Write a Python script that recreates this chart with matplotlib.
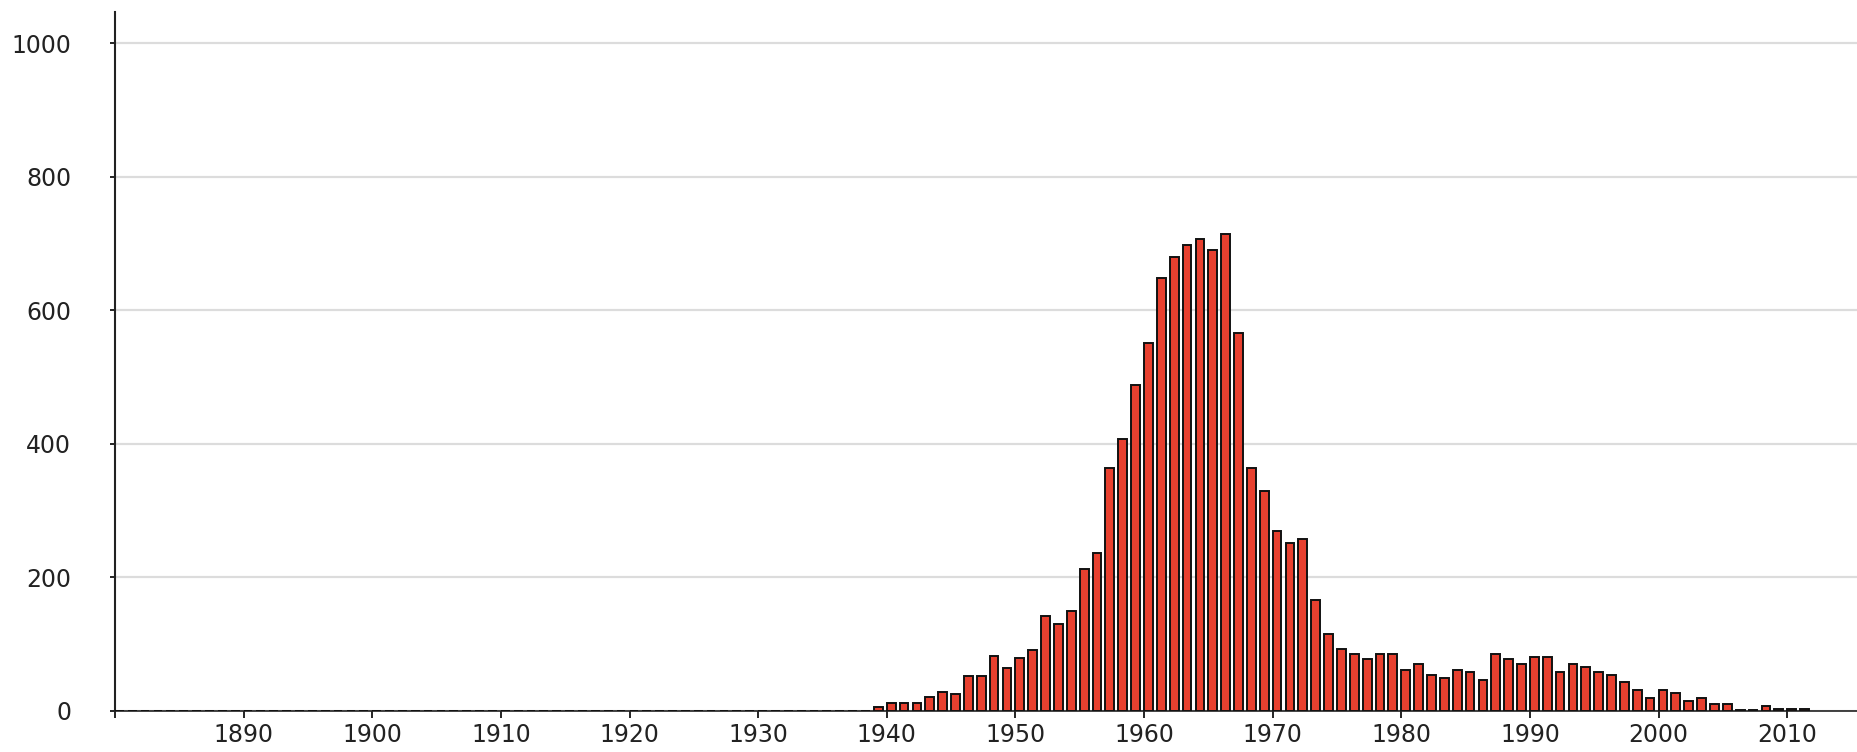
import numpy as np
import matplotlib
matplotlib.use("Agg")
import matplotlib.pyplot as plt

# yearly counts, 1880..2011 (zero until 1938)
first_year = 1880
zero_years = list(range(1880, 1939))
nonzero_counts = [
    6,                                   # 1939
    12, 12, 12, 21, 29, 25, 53, 53, 83, 64,   # 1940-1949
    80, 91, 142, 130, 150, 212, 236, 364, 407, 488,  # 1950-1959
    551, 648, 679, 698, 706, 690, 714, 566, 364, 329,  # 1960-1969
    270, 251, 258, 166, 115, 93, 85, 78, 85, 85,  # 1970-1979
    62, 70, 54, 50, 62, 58, 47, 85, 78, 70,  # 1980-1989
    81, 81, 58, 70, 66, 58, 54, 43, 31, 19,  # 1990-1999
    31, 27, 15, 19, 11, 11, 1, 1, 8, 3,  # 2000-2009
    3, 3,                                # 2010-2011
]
counts = [0] * len(zero_years) + nonzero_counts
years = list(range(first_year, first_year + len(counts)))

x_ticks = list(range(1880, 2011, 10))
x_tick_labels = [''] + [str(y) for y in x_ticks[1:]]
y_ticks = [0, 200, 400, 600, 800, 1000]

plt.rcParams['font.family'] = ['DejaVu Sans']

fig = plt.figure(figsize=(18.58, 7.52), dpi=100)
ax = fig.add_axes([115 / 1858, 1 - 711 / 752, 1 - 115 / 1858, (711 - 11.7) / 752])

ax.bar(years, counts, width=0.68, align='edge', color='#e8402f',
       edgecolor='#111111', linewidth=1.4, zorder=3)

ax.set_xlim(1880, 2015.5)
ax.set_ylim(0, 1047)

ax.set_yticks(y_ticks)
ax.set_xticks(x_ticks)
ax.set_xticklabels(x_tick_labels)
ax.yaxis.grid(True, color='#dcdcdc', linewidth=1.6, zorder=0)
ax.set_axisbelow(True)

for side in ['top', 'right']:
    ax.spines[side].set_visible(False)
ax.spines['left'].set_linewidth(1.5)
ax.spines['bottom'].set_linewidth(1.2)
ax.spines['left'].set_color('#222222')
ax.spines['bottom'].set_color('#222222')

ax.tick_params(axis='y', length=3.6, width=1.2, pad=28, labelsize=17, labelcolor='#222222')
ax.tick_params(axis='x', length=5, width=1.2, pad=4, labelsize=17, labelcolor='#222222')

fig.savefig('out.png', dpi=100)
